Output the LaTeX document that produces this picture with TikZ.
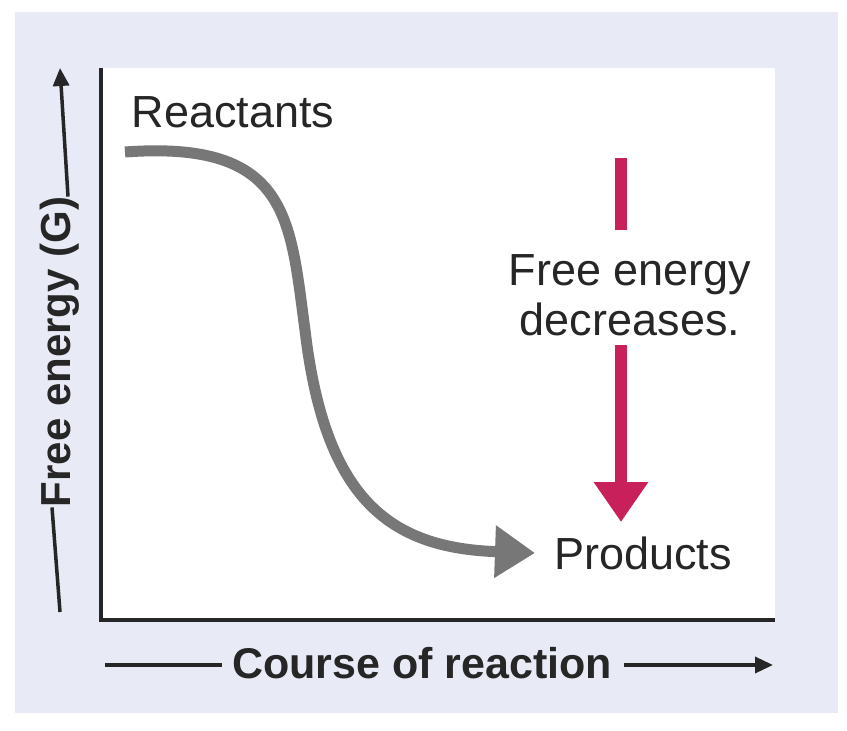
\documentclass[tikz,border=0pt]{standalone}
\usepackage{fontspec}
\setmainfont{Liberation Sans}
\usetikzlibrary{arrows.meta}
\definecolor{bgl}{HTML}{E8EAF6}
\definecolor{mag}{HTML}{C8205A}
\definecolor{crv}{HTML}{777777}
\tikzset{lbl/.style={font=\fontsize{45}{50}\selectfont, text=black!85, inner sep=0pt},
axis/.style={line width=3.5pt, black!85}}
\begin{document}
\begin{tikzpicture}[x=1pt,y=-1pt]
\useasboundingbox (0,0) rectangle (847,731);
\fill[white] (0,0) rectangle (847,731);
\fill[bgl] (15,12) rectangle (838,713);
\fill[white] (101,68) rectangle (775,620);
\draw[axis] (101,68) -- (101,620) -- (775,620);
% y axis label
\node[lbl, font=\bfseries\fontsize{42}{48}\selectfont, rotate=90, anchor=center] (ylab) at (60,352) {Free energy (G)};
\coordinate (yb) at (60,612);
\coordinate (yt) at (60,68);
\draw[axis] (yb) -- ([xshift=-8pt]ylab.west);
\draw[axis, -{Triangle[length=18pt,width=16pt]}] ([xshift=8pt]ylab.east) -- (yt);
% x axis label
\node[lbl, font=\bfseries\fontsize{43}{48}\selectfont, anchor=center] (xlab) at (422,663) {Course of reaction};
\coordinate (xl) at (105,665);
\coordinate (xr) at (773,665);
\draw[axis] (xl) -- ([xshift=-10pt]xlab.west |- xl);
\draw[axis, -{Triangle[length=18pt,width=16pt]}] ([xshift=12pt]xlab.east |- xr) -- (xr);
% labels
\node[lbl] (react) at (233,112) {Reactants};
\node[lbl] (prod) at (643,553) {Products};
\node[lbl, align=center, font=\fontsize{45}{50}\selectfont] (fe) at (630,295) {Free energy\\decreases.};
% curve
\coordinate (c0) at (125,152);
\coordinate (c1) at (535,553);
\draw[crv, line width=11pt, -{Triangle[length=40pt,width=50pt]}] (c0) .. controls (290,140) and (290,220) .. (305,330) .. controls (325,500) and (390,548) .. (c1);
% magenta arrow
\coordinate (m0) at (621,158);
\coordinate (m1) at (621,230);
\coordinate (m2) at (621,345);
\coordinate (m3) at (621,522);
\draw[mag, line width=12pt] (m0) -- (m1);
\draw[mag, line width=12pt, -{Triangle[length=40pt,width=52pt]}] (m2) -- (m3);
\end{tikzpicture}
\end{document}
